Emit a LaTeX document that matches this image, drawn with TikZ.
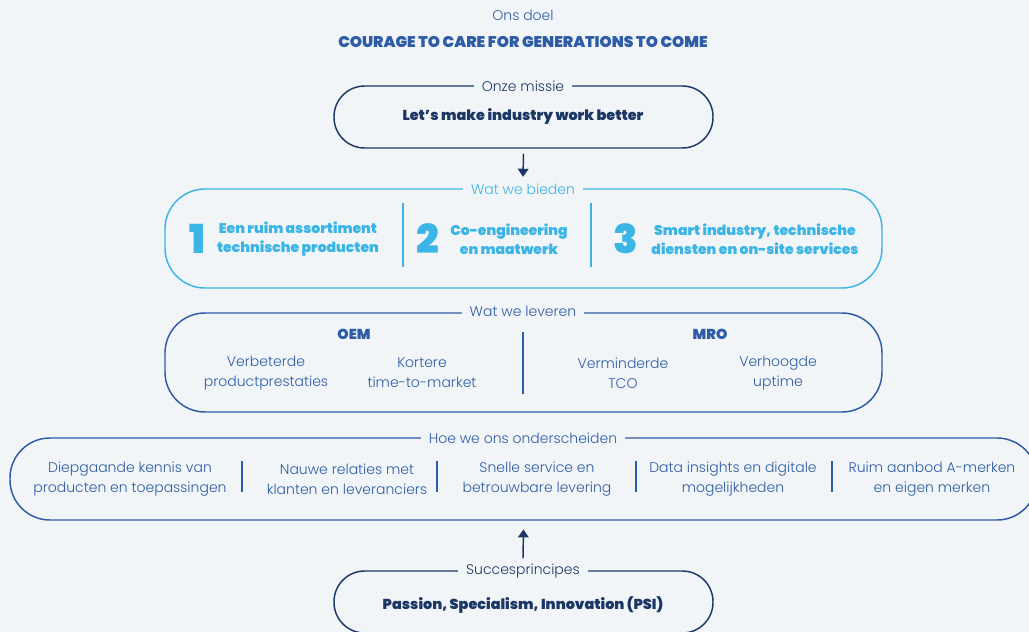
\documentclass[tikz,border=0pt]{standalone}
\usepackage{fontspec}
\setmainfont{Poppins Light}[BoldFont={Poppins Black}]
\usetikzlibrary{arrows.meta}
\definecolor{bg}{HTML}{F2F5F7}
\definecolor{navy}{HTML}{1C3766}
\definecolor{mblue}{HTML}{2E5CA6}
\definecolor{lblue}{HTML}{3BB5E5}
\tikzset{
  frame/.style={draw, line width=1.1pt, rectangle, inner sep=0pt},
  lbl/.style={fill=bg, inner xsep=6pt, inner ysep=1pt, font=\fontsize{10.5}{13}\selectfont},
  body/.style={align=center, inner sep=0pt, font=\fontsize{10.5}{15}\selectfont, text=mblue},
  bodyb/.style={align=center, inner sep=0pt, font=\fontsize{10.5}{14}\selectfont\bfseries, text=lblue},
  bignum/.style={inner sep=0pt, font=\fontsize{30}{30}\selectfont\bfseries, text=lblue},
  headb/.style={inner sep=0pt, font=\fontsize{10.8}{12}\selectfont\bfseries},
  divider/.style={line width=1.1pt},
  arr/.style={draw=navy, line width=1.1pt, -{Triangle[width=8pt,length=6pt]}}
}
\begin{document}
\begin{tikzpicture}[x=0.75pt,y=-0.75pt]
\fill[bg] (0,0) rectangle (1029,632);
\useasboundingbox (0,0) rectangle (1029,632);
\clip (0,0) rectangle (1029,632);

% Ons doel
\node[inner sep=0pt, font=\fontsize{10.5}{13}\selectfont, text=mblue] (doel) at (523,15) {Ons doel};
\node[headb, text=mblue, font=\fontsize{11.6}{13}\selectfont\bfseries] (courage) at (523,42) {COURAGE TO CARE FOR GENERATIONS TO COME};

% Onze missie
\node[frame, draw=navy, minimum width=284.25pt, minimum height=46.5pt, rounded corners=23pt] (mis) at (523.5,117) {};
\node[lbl, text=navy] (mislbl) at (523,86) {Onze missie};
\node[headb, text=navy] (mistxt) at (523,116) {Let’s make industry work better};

% Wat we bieden
\node[frame, draw=lblue, minimum width=537.75pt, minimum height=74.25pt, rounded corners=30pt] (bied) at (523.5,238.5) {};
\node[lbl, text=lblue] (biedlbl) at (523,189) {Wat we bieden};
\draw[arr] ([yshift=-3.75pt]mis.south) -- ([yshift=4pt]biedlbl.north);
\draw[lblue, divider] (403,203) -- (403,267);
\draw[lblue, divider] (591,203) -- (591,267);
\node[bignum] (n1) at (197,239) {1};
\node[bodyb] (b1) at (298,239) {Een ruim assortiment\\technische producten};
\node[bignum] (n2) at (428,239) {2};
\node[bodyb] (b2) at (509,239) {Co-engineering\\en maatwerk};
\node[bignum] (n3) at (626,239) {3};
\node[bodyb] (b3) at (755,239) {Smart industry, technische\\diensten en on-site services};

% Wat we leveren
\node[frame, draw=mblue, minimum width=537.75pt, minimum height=74.25pt, rounded corners=30pt] (lev) at (523.5,362.5) {};
\node[lbl, text=mblue] (levlbl) at (523,311) {Wat we leveren};
\draw[mblue, divider] (523,332) -- (523,394);
\node[headb, text=mblue] (oem) at (354,334) {OEM};
\node[headb, text=mblue] (mro) at (710,334) {MRO};
\node[body] (l1) at (266,373) {Verbeterde\\productprestaties};
\node[body] (l2) at (422,373) {Kortere\\time-to-market};
\node[body] (l3) at (623,373) {Verminderde\\TCO};
\node[body] (l4) at (778,373) {Verhoogde\\uptime};

% Hoe we ons onderscheiden
\node[frame, draw=mblue, minimum width=770.25pt, minimum height=61.5pt, rounded corners=30pt] (ond) at (523.5,479) {};
\node[lbl, text=mblue] (ondlbl) at (523,438) {Hoe we ons onderscheiden};
\foreach \x in {242,437,636,832} \draw[mblue, divider] (\x,461) -- (\x,492);
\node[body] (o1) at (130,479) {Diepgaande kennis van\\producten en toepassingen};
\node[body] (o2) at (347,479) {Nauwe relaties met\\klanten en leveranciers};
\node[body] (o3) at (537,479) {Snelle service en\\betrouwbare levering};
\node[body] (o4) at (733,479) {Data insights en digitale\\mogelijkheden};
\node[body] (o5) at (932,479) {Ruim aanbod A-merken\\en eigen merken};

% Succesprincipes
\node[frame, draw=navy, minimum width=284.25pt, minimum height=46.5pt, rounded corners=23pt] (psi) at (523.5,602) {};
\node[lbl, text=navy] (psilbl) at (523,571) {Succesprincipes};
\node[headb, text=navy] (psitxt) at (523,605) {Passion, Specialism, Innovation (PSI)};
\draw[arr] ([yshift=3pt]psilbl.north) -- ([yshift=-6.5pt]ond.south);
\end{tikzpicture}
\end{document}
